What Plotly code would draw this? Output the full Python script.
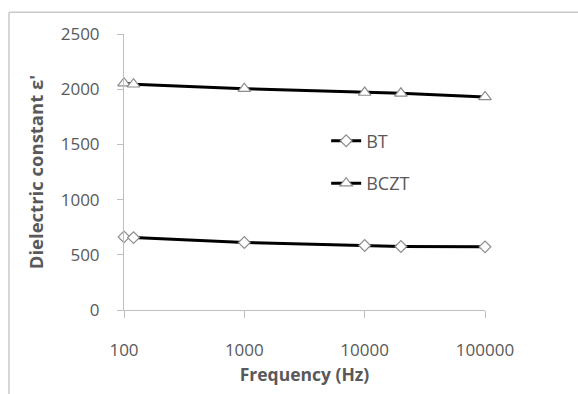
import plotly.graph_objects as go

freq = [100, 120, 1000, 10000, 20000, 100000]
bt = [662, 656, 611, 584, 575, 572]
bczt = [2055, 2045, 2005, 1970, 1963, 1930]
xticks = [100, 1000, 10000, 100000]
xticklabels = ["100", "1000", "10000", "100000"]
yticks = [0, 500, 1000, 1500, 2000, 2500]

fig = go.Figure()
fig.add_trace(go.Scatter(
    x=freq, y=bt, name="BT", mode="lines+markers", legendgroup="a", cliponaxis=False,
    line=dict(color="black", width=3),
    marker=dict(symbol="diamond", size=9, color="white", line=dict(color="#8c8c8c", width=1.2)),
))
fig.add_trace(go.Scatter(
    x=freq, y=bczt, name="BCZT", mode="lines+markers", legendgroup="b", cliponaxis=False,
    line=dict(color="black", width=3),
    marker=dict(symbol="triangle-up", size=11, color="white", line=dict(color="#8c8c8c", width=1.2)),
))

font = "Open Sans"
fig.update_layout(
    width=578, height=394,
    margin=dict(l=124, r=93, t=34, b=82),
    paper_bgcolor="white", plot_bgcolor="white",
    font=dict(family=font, color="#595959", size=17),
    legend=dict(x=0.56, y=0.536, xanchor="left", yanchor="middle",
                bgcolor="rgba(0,0,0,0)", tracegroupgap=16,
                font=dict(size=18, color="#595959"), itemwidth=30),
    xaxis=dict(type="log", range=[2, 5], tickvals=xticks, ticktext=xticklabels,
               showgrid=False, zeroline=False, showline=True, linecolor="#bfbfbf", linewidth=1,
               ticks="outside", ticklen=7, tickcolor="#bfbfbf", ticklabelstandoff=18,
               title=dict(text="<b>Frequency (Hz)</b>", font=dict(size=17.5, color="#595959"), standoff=8)),
    yaxis=dict(range=[0, 2500], tickvals=yticks, showgrid=False, zeroline=False,
               showline=True, linecolor="#bfbfbf", linewidth=1,
               ticks="outside", ticklen=6, tickcolor="#bfbfbf", ticklabelstandoff=14,
               title=dict(text="<b>Dielectric constant ε'</b>", font=dict(size=18.5, color="#595959"), standoff=12)),
    shapes=[
        dict(type="line", xref="paper", yref="paper", x0=-0.3186, x1=1.5, y0=1.079, y1=1.079,
             line=dict(color="#c8c8c8", width=1.5)),
        dict(type="line", xref="paper", yref="paper", x0=-0.3186, x1=-0.3186, y0=1.079, y1=-0.5,
             line=dict(color="#c8c8c8", width=1.5)),
    ],
)
fig.write_html("out.html")
